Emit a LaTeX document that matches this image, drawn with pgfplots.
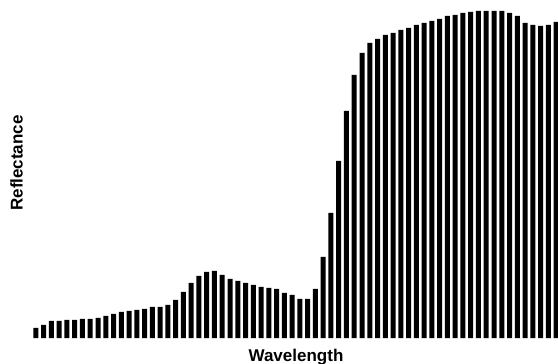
\documentclass[border=0pt]{standalone}
\usepackage{pgfplots}
\pgfplotsset{compat=1.18}
\usepackage{fontspec}
\setmainfont{Liberation Sans}
\begin{document}
\begin{tikzpicture}
\useasboundingbox (0,0) rectangle (558bp,364bp);
\begin{axis}[
  at={(32bp,26bp)}, anchor=south west,
  scale only axis, width=528bp, height=338bp,
  xmin=0.5, xmax=68.5, ymin=0, ymax=338,
  axis lines=none, ticks=none,
  ybar, bar width=5bp, clip=false,
]
\addplot[fill=black, draw=none, bar shift=0pt] coordinates {
(1,10) (2,13) (3,17) (4,17) (5,18) (6,18) (7,19) (8,19) (9,20) (10,22)
(11,24) (12,26) (13,27) (14,28) (15,29) (16,31) (17,31) (18,33) (19,38) (20,46)
(21,55) (22,62) (23,66) (24,67) (25,63) (26,59) (27,57) (28,55) (29,53) (30,51)
(31,50) (32,49) (33,45) (34,43) (35,39) (36,39) (37,49) (38,81) (39,125) (40,177)
(41,227) (42,263) (43,285) (44,295) (45,299) (46,303) (47,305) (48,308) (49,310) (50,313)
(51,315) (52,317) (53,319) (54,322) (55,323) (56,325) (57,326) (58,327) (59,327) (60,327)
(61,327) (62,325) (63,322) (64,315) (65,313) (66,312) (67,313) (68,316)
};
\end{axis}
\node[anchor=base, font=\fontsize{17bp}{20bp}\selectfont\bfseries, inner sep=0pt] at (296bp,3bp) {Wavelength};
\node[anchor=center, rotate=90, font=\fontsize{17bp}{20bp}\selectfont\bfseries, inner sep=0pt] at (16.5bp,201bp) {Reflectance};
\end{tikzpicture}
\end{document}
